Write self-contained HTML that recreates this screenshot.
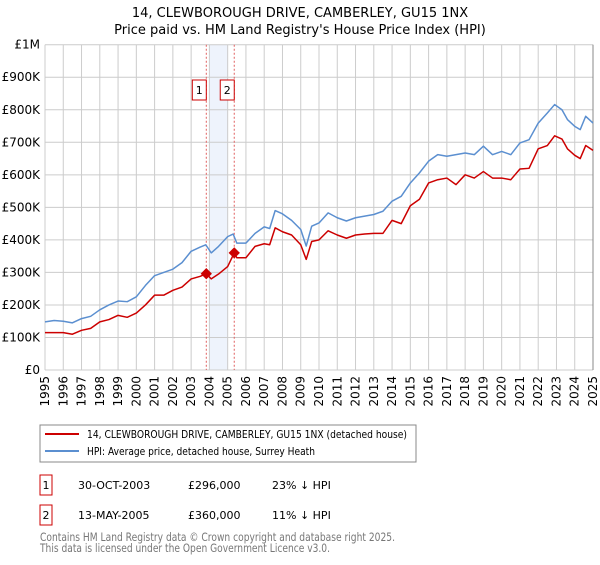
<!DOCTYPE html>
<html><head><meta charset="utf-8"><style>
body{margin:0;background:#fff;font-family:"Liberation Sans","DejaVu Sans",sans-serif}
svg text{font-family:"DejaVu Sans","Liberation Sans",sans-serif}
</style></head><body>
<svg id="c" width="600" height="560" xmlns="http://www.w3.org/2000/svg">
<text x="300" y="17" text-anchor="middle" font-size="13">14, CLEWBOROUGH DRIVE, CAMBERLEY, GU15 1NX</text>
<text x="300" y="34" text-anchor="middle" font-size="13">Price paid vs. HM Land Registry's House Price Index (HPI)</text>
<g id="plot"></g>
<rect x="40" y="425" width="376" height="37" fill="#fff" stroke="#888"/>
<line x1="45" y1="434" x2="79" y2="434" stroke="#cc0000" stroke-width="2"/>
<text x="87" y="438" font-size="11" textLength="320" lengthAdjust="spacingAndGlyphs">14, CLEWBOROUGH DRIVE, CAMBERLEY, GU15 1NX (detached house)</text>
<line x1="45" y1="451" x2="79" y2="451" stroke="#5b8fd0" stroke-width="2"/>
<text x="87" y="455" font-size="11" textLength="228" lengthAdjust="spacingAndGlyphs">HPI: Average price, detached house, Surrey Heath</text>
<rect x="40" y="475" width="12" height="20" fill="none" stroke="#cc0000"/>
<text x="46" y="489" font-size="11" text-anchor="middle">1</text>
<text x="78" y="489" font-size="11">30-OCT-2003</text>
<text x="188" y="489" font-size="11">£296,000</text>
<text x="272" y="489" font-size="11">23% ↓ HPI</text>
<rect x="40" y="505" width="12" height="20" fill="none" stroke="#cc0000"/>
<text x="46" y="519" font-size="11" text-anchor="middle">2</text>
<text x="78" y="519" font-size="11">13-MAY-2005</text>
<text x="188" y="519" font-size="11">£360,000</text>
<text x="272" y="519" font-size="11">11% ↓ HPI</text>
<text x="40" y="541" font-size="11.5" fill="#777" textLength="355" lengthAdjust="spacingAndGlyphs">Contains HM Land Registry data © Crown copyright and database right 2025.</text>
<text x="40" y="552" font-size="11.5" fill="#777" textLength="290" lengthAdjust="spacingAndGlyphs">This data is licensed under the Open Government Licence v3.0.</text>
</svg>
<script>
const hpiYears=[1995,1995.5,1996,1996.5,1997,1997.5,1998,1998.5,1999,1999.5,2000,2000.5,2001,2001.5,2002,2002.5,2003,2003.5,2003.8,2004.1,2004.5,2005,2005.3,2005.5,2006,2006.5,2007,2007.3,2007.6,2008,2008.5,2009,2009.3,2009.6,2010,2010.5,2011,2011.5,2012,2012.5,2013,2013.5,2014,2014.5,2015,2015.5,2016,2016.5,2017,2017.5,2018,2018.5,2019,2019.5,2020,2020.5,2021,2021.5,2022,2022.5,2022.9,2023.3,2023.6,2024,2024.3,2024.6,2025];
const hpiValues=[148,152,150,145,158,165,185,200,212,210,225,260,290,300,310,330,365,378,385,360,380,410,418,390,390,420,440,435,490,480,460,432,381,442,452,483,468,458,468,473,478,488,519,534,575,606,642,662,657,662,667,662,688,662,672,662,698,708,759,790,816,800,770,749,739,780,759];
const priceYears=[1995,1996,1996.5,1997,1997.5,1998,1998.5,1999,1999.5,2000,2000.5,2001,2001.5,2002,2002.5,2003,2003.5,2003.83,2004.1,2004.5,2005,2005.36,2005.5,2006,2006.5,2007,2007.3,2007.6,2008,2008.5,2009,2009.3,2009.6,2010,2010.5,2011,2011.5,2012,2012.5,2013,2013.5,2014,2014.5,2015,2015.5,2016,2016.5,2017,2017.5,2018,2018.5,2019,2019.5,2020,2020.5,2021,2021.5,2022,2022.5,2022.9,2023.3,2023.6,2024,2024.3,2024.6,2025];
const priceValues=[115,115,110,122,128,148,155,168,162,175,200,230,230,245,255,280,288,296,280,295,318,360,345,345,380,388,385,437,425,415,385,340,395,400,428,415,405,415,418,420,420,460,450,505,525,575,585,590,570,600,590,610,590,590,585,618,620,680,690,720,710,680,660,650,690,675];
const saleYears=[2003.83,2005.36];
const saleValues=[296,360];
const saleLabels=["1","2"];
const yTicks=[0,100,200,300,400,500,600,700,800,900,1000];
const yTickLabels=["£0","£100K","£200K","£300K","£400K","£500K","£600K","£700K","£800K","£900K","£1M"];
const xTicks=[1995,1996,1997,1998,1999,2000,2001,2002,2003,2004,2005,2006,2007,2008,2009,2010,2011,2012,2013,2014,2015,2016,2017,2018,2019,2020,2021,2022,2023,2024,2025];

const X0=45,X1=593,Y0=370,Y1=44.7;
const x=v=>X0+(v-1995)/30*(X1-X0);
const y=v=>Y0-v/1000*(Y0-Y1);
const g=document.getElementById('plot');
const NS='http://www.w3.org/2000/svg';
function mk(t,a){const e=document.createElementNS(NS,t);for(const k in a)e.setAttribute(k,a[k]);g.appendChild(e);return e;}
let band=mk('rect',{x:x(2004),y:Y1,width:x(2005)-x(2004),height:Y0-Y1,fill:'#eef3fc'});


yTicks.forEach((t,i)=>{
 let l=mk('line',{x1:X0,x2:X1,y1:y(t),y2:y(t),stroke:'#ccc'});
 
 
 let tx=mk('text',{x:40,y:y(t)+4,'text-anchor':'end','font-size':12});
 
 
 tx.textContent=yTickLabels[i];
});
xTicks.forEach(t=>{
 let l=mk('line',{x1:x(t),x2:x(t),y1:Y1,y2:Y0,stroke:'#ccc'});
 
 
 let tx=mk('text',{x:0,y:0,'text-anchor':'end','font-size':12,transform:`translate(${x(t)+4},${Y0+6}) rotate(-90)`});
 
 
 tx.textContent=t;
});
let ax=mk('line',{x1:X1,x2:X1,y1:Y1,y2:Y0,stroke:'#888'});


saleYears.forEach((s,i)=>{
 let l=mk('line',{x1:x(s),x2:x(s),y1:Y1,y2:Y0,stroke:'#e06060','stroke-dasharray':'2,2'});
 
 
 let r=mk('rect',{x:x(s)-14,y:80,width:14,height:20,fill:'#fff',stroke:'#cc0000'});
 
 
 let t=mk('text',{x:x(s)-7,y:94,'text-anchor':'middle','font-size':11});
 
 
 t.textContent=saleLabels[i];
});
function line(xs,vs,c,n){
 let p=mk('polyline',{points:xs.map((v,i)=>x(v)+','+y(vs[i])).join(' '),fill:'none',stroke:c,'stroke-width':1.5,'stroke-linejoin':'round'});
 
 
}
line(hpiYears,hpiValues,'#5b8fd0','hpi-line');
line(priceYears,priceValues,'#cc0000','property-line');
saleYears.forEach((s,i)=>{
 let d=mk('rect',{x:x(s)-4,y:y(saleValues[i])-4,width:8,height:8,fill:'#cc0000',transform:`rotate(45 ${x(s)} ${y(saleValues[i])})`});
 
 
});
</script>
</body></html>
